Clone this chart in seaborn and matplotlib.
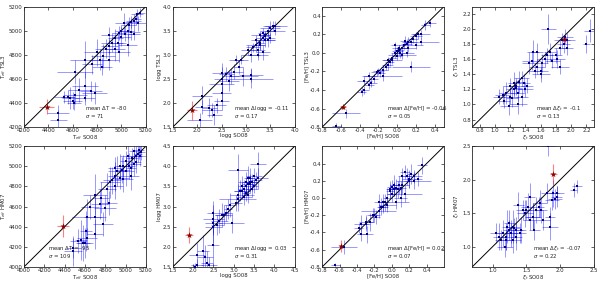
import numpy as np
import matplotlib
matplotlib.use('Agg')
import matplotlib.pyplot as plt
import seaborn as sns

# --- Teff (SO08 on x, shared by both rows) ---
teff_so08 = [4480, 4480, 4530, 4560, 4580, 4600, 4610, 4620, 4650, 4700, 4700, 4750, 4780, 4620, 4700,
             4760, 4800, 4820, 4840, 4850, 4870, 4900, 4900, 4920, 4950, 4950, 4970, 4980, 5000, 5000,
             5020, 5030, 5050, 5060, 5080, 5080, 5100, 5100, 5120, 5130, 5150, 5140, 5050, 4980, 4900]
teff_so08_err = [90, 70, 80, 60, 70, 80, 60, 100, 90, 110, 80, 90, 100, 150, 120, 80, 110, 90, 80, 100,
                 90, 80, 70, 90, 60, 80, 70, 60, 80, 50, 70, 60, 50, 60, 70, 50, 60, 50, 40, 50, 40, 60, 80, 90, 70]
teff_tsl3 = [4320, 4260, 4450, 4450, 4440, 4420, 4400, 4470, 4510, 4540, 4440, 4500, 4480, 4660, 4760,
             4720, 4820, 4760, 4700, 4790, 4850, 4760, 4870, 4900, 4940, 4850, 4900, 4980, 4950, 5000,
             5060, 4970, 5000, 5050, 4990, 5070, 5080, 4970, 5100, 5140, 5150, 5060, 4880, 4820, 4960]
teff_tsl3_err = [60, 80, 50, 60, 90, 70, 60, 80, 100, 120, 60, 80, 90, 100, 150, 80, 110, 90, 70, 100,
                 80, 90, 60, 80, 70, 100, 70, 60, 80, 50, 90, 60, 70, 60, 70, 50, 60, 50, 50, 40, 40, 60, 90, 80, 70]
teff_hm07 = [4160, 4190, 4260, 4270, 4240, 4240, 4360, 4290, 4600, 4500, 4330, 4630, 4430, 4500, 4720,
             4690, 4590, 4780, 4640, 4840, 4860, 4800, 4900, 4950, 5000, 4880, 4960, 5000, 4950, 5050,
             5100, 5000, 4980, 5080, 5020, 5150, 5100, 5040, 5120, 5160, 5140, 5100, 4900, 4870, 4980]
teff_hm07_err = [150, 100, 120, 200, 180, 150, 200, 100, 120, 200, 150, 150, 120, 180, 200, 150, 130, 150,
                 120, 150, 130, 120, 140, 150, 120, 100, 130, 110, 150, 100, 120, 130, 110, 100, 120, 90,
                 100, 110, 80, 90, 80, 100, 130, 120, 110]

# --- log g ---
logg_so08 = [2.05, 2.1, 2.1, 2.25, 2.3, 2.35, 2.4, 2.5, 2.5, 2.5, 2.5, 2.5, 2.6, 2.65, 2.7,
             2.75, 2.8, 2.85, 2.9, 2.95, 3.1, 3.1, 3.05, 3.1, 3.15, 3.2, 3.2, 3.25, 3.3, 3.3,
             3.35, 3.35, 3.4, 3.4, 3.45, 3.5, 3.5, 3.55, 3.6, 3.35, 3.3, 3.45, 3.25, 3.6, 3.4]
logg_so08_err = [0.25, 0.2, 0.15, 0.15, 0.2, 0.15, 0.2, 0.15, 0.2, 0.25, 0.15, 0.2, 0.15, 0.2, 0.15,
                 0.2, 0.15, 0.1, 0.15, 0.3, 0.45, 0.25, 0.15, 0.2, 0.15, 0.2, 0.1, 0.15, 0.2, 0.1,
                 0.15, 0.1, 0.2, 0.1, 0.15, 0.2, 0.1, 0.15, 0.2, 0.15, 0.1, 0.15, 0.2, 0.25, 0.1]
logg_tsl3 = [1.65, 2.15, 1.92, 1.90, 1.85, 1.75, 1.95, 2.05, 2.2, 2.4, 2.5, 2.62, 2.6, 2.45, 2.55,
             2.65, 2.9, 2.75, 2.9, 2.55, 2.5, 2.58, 3.1, 3.0, 3.15, 3.2, 3.3, 3.1, 3.4, 3.25,
             3.35, 3.45, 3.3, 3.4, 3.5, 3.55, 3.35, 3.6, 3.5, 3.05, 3.2, 3.3, 3.0, 3.6, 3.38]
logg_tsl3_err = [0.15, 0.2, 0.15, 0.2, 0.15, 0.2, 0.15, 0.2, 0.15, 0.2, 0.25, 0.2, 0.15, 0.2, 0.15,
                 0.15, 0.1, 0.15, 0.1, 0.2, 0.2, 0.15, 0.1, 0.15, 0.1, 0.15, 0.1, 0.15, 0.1, 0.15,
                 0.1, 0.1, 0.15, 0.1, 0.1, 0.15, 0.1, 0.1, 0.1, 0.15, 0.1, 0.15, 0.1, 0.1, 0.1]
logg_hm07 = [1.5, 1.8, 1.55, 1.9, 1.75, 1.6, 1.55, 2.05, 2.5, 2.7, 2.85, 2.6, 2.55, 2.65, 2.8,
             2.8, 2.85, 2.95, 3.05, 2.6, 3.2, 3.9, 3.1, 3.3, 3.4, 3.4, 3.5, 3.45, 3.6, 3.5,
             3.55, 3.7, 3.6, 3.7, 3.6, 3.75, 3.5, 3.65, 4.05, 3.3, 3.35, 3.45, 3.25, 3.7, 3.55]
logg_hm07_err = [0.1, 0.3, 0.15, 0.4, 0.3, 0.3, 0.2, 0.5, 0.4, 0.35, 0.3, 0.3, 0.25, 0.3, 0.3,
                 0.25, 0.2, 0.25, 0.3, 0.25, 0.3, 0.4, 0.2, 0.25, 0.25, 0.2, 0.25, 0.2, 0.25, 0.2,
                 0.2, 0.3, 0.2, 0.25, 0.2, 0.2, 0.15, 0.2, 0.3, 0.2, 0.2, 0.2, 0.2, 0.25, 0.2]

# --- [Fe/H] ---
feh_so08 = [-0.65, -0.55, -0.38, -0.35, -0.35, -0.3, -0.28, -0.3, -0.25, -0.2, -0.18, -0.15, -0.15, -0.12, -0.1,
            -0.08, -0.05, -0.05, -0.02, 0.0, 0.0, 0.02, 0.03, 0.05, 0.05, 0.07, 0.1, 0.1, 0.12, 0.15,
            0.15, 0.17, 0.2, 0.2, 0.22, 0.25, 0.3, 0.35, 0.08, -0.02, 0.12, 0.25, -0.1, 0.02, -0.22]
feh_so08_err = [0.05, 0.15, 0.05, 0.05, 0.08, 0.05, 0.06, 0.08, 0.05, 0.06, 0.05, 0.05, 0.2, 0.05, 0.06,
                0.05, 0.05, 0.1, 0.05, 0.06, 0.05, 0.08, 0.05, 0.06, 0.15, 0.05, 0.06, 0.08, 0.05, 0.06,
                0.2, 0.05, 0.06, 0.08, 0.05, 0.2, 0.05, 0.06, 0.05, 0.05, 0.08, 0.1, 0.06, 0.05, 0.06]
feh_tsl3 = [-0.79, -0.65, -0.42, -0.40, -0.30, -0.35, -0.32, -0.25, -0.28, -0.2, -0.22, -0.18, -0.25, -0.15, -0.13,
            -0.1, -0.05, -0.08, 0.0, 0.02, -0.03, 0.05, 0.0, 0.05, -0.02, 0.08, 0.1, 0.0, 0.12, 0.12,
            -0.15, 0.15, 0.18, 0.08, 0.2, 0.12, 0.3, 0.32, 0.13, 0.08, 0.05, 0.2, -0.08, 0.03, -0.21]
feh_tsl3_err = [0.03, 0.05, 0.05, 0.04, 0.05, 0.04, 0.05, 0.04, 0.05, 0.04, 0.04, 0.05, 0.05, 0.04, 0.05,
                0.04, 0.05, 0.04, 0.05, 0.04, 0.05, 0.04, 0.05, 0.04, 0.05, 0.04, 0.05, 0.04, 0.05, 0.04,
                0.06, 0.04, 0.05, 0.04, 0.05, 0.04, 0.05, 0.04, 0.05, 0.04, 0.04, 0.05, 0.04, 0.05, 0.04]
feh_hm07 = [-0.78, -0.57, -0.35, -0.42, -0.3, -0.3, -0.42, -0.28, -0.28, -0.2, -0.22, -0.05, -0.15, -0.1, -0.1,
            -0.05, 0.0, -0.08, 0.1, 0.13, 0.05, 0.1, 0.15, 0.12, -0.05, 0.1, 0.12, 0.0, 0.25, 0.3,
            0.05, 0.25, 0.2, 0.22, 0.28, 0.2, 0.22, 0.38, 0.15, 0.08, 0.15, 0.25, -0.05, 0.1, -0.2]
feh_hm07_err = [0.03, 0.08, 0.06, 0.08, 0.1, 0.08, 0.1, 0.08, 0.1, 0.08, 0.08, 0.1, 0.08, 0.1, 0.08,
                0.1, 0.12, 0.08, 0.1, 0.08, 0.1, 0.08, 0.12, 0.1, 0.08, 0.1, 0.08, 0.1, 0.1, 0.08,
                0.1, 0.1, 0.08, 0.1, 0.12, 0.1, 0.08, 0.1, 0.1, 0.08, 0.1, 0.08, 0.1, 0.08, 0.08]

# --- microturbulence xi_t ---
xi_so08 = [1.05, 1.1, 1.12, 1.15, 1.18, 1.2, 1.22, 1.25, 1.25, 1.28, 1.3, 1.3, 1.32, 1.35, 1.38,
           1.4, 1.42, 1.45, 1.48, 1.5, 1.52, 1.55, 1.55, 1.6, 1.62, 1.65, 1.68, 1.7, 1.72, 1.75,
           1.8, 1.82, 1.85, 1.85, 1.88, 1.9, 1.92, 1.95, 1.95, 2.2, 2.25, 1.6, 1.35, 1.2, 1.28]
xi_so08_err = [0.08, 0.1, 0.08, 0.1, 0.12, 0.1, 0.08, 0.1, 0.08, 0.1, 0.12, 0.1, 0.08, 0.1, 0.08,
               0.1, 0.08, 0.1, 0.12, 0.08, 0.1, 0.08, 0.1, 0.12, 0.08, 0.1, 0.08, 0.1, 0.08, 0.1,
               0.08, 0.1, 0.12, 0.08, 0.1, 0.08, 0.1, 0.08, 0.1, 0.05, 0.08, 0.1, 0.08, 0.1, 0.08]
xi_tsl3 = [1.1, 1.12, 1.05, 1.15, 0.98, 1.1, 1.08, 1.2, 1.28, 1.25, 1.0, 1.15, 1.3, 1.35, 1.28,
           1.2, 1.25, 1.55, 1.58, 1.7, 1.45, 1.7, 1.5, 1.4, 1.55, 1.6, 1.65, 2.0, 1.7, 1.58,
           1.65, 1.6, 1.5, 1.75, 1.85, 1.8, 1.9, 1.75, 1.85, 1.8, 1.98, 1.45, 1.1, 1.25, 1.22]
xi_tsl3_err = [0.1, 0.12, 0.1, 0.15, 0.12, 0.1, 0.12, 0.1, 0.15, 0.1, 0.12, 0.1, 0.15, 0.1, 0.12,
               0.1, 0.1, 0.15, 0.12, 0.15, 0.1, 0.12, 0.1, 0.1, 0.12, 0.1, 0.1, 0.2, 0.12, 0.1,
               0.1, 0.12, 0.1, 0.1, 0.1, 0.12, 0.1, 0.1, 0.1, 0.12, 0.15, 0.1, 0.12, 0.1, 0.1]
xi_hm07 = [1.2, 1.15, 1.1, 1.2, 1.0, 1.15, 1.3, 1.25, 1.35, 1.2, 1.1, 1.3, 1.28, 1.25, 1.62,
           1.2, 1.25, 1.55, 1.5, 1.55, 1.6, 1.75, 1.4, 1.45, 1.25, 1.55, 1.6, 1.65, 1.55, 1.4,
           1.8, 2.5, 1.3, 1.45, 1.7, 1.8, 1.72, 1.75, 1.8, 1.85, 1.9, 1.45, 1.15, 1.1, 1.2]
xi_hm07_err = [0.15, 0.2, 0.15, 0.2, 0.15, 0.2, 0.25, 0.15, 0.2, 0.15, 0.2, 0.25, 0.15, 0.2, 0.2,
               0.15, 0.2, 0.15, 0.2, 0.15, 0.2, 0.2, 0.15, 0.2, 0.15, 0.2, 0.15, 0.2, 0.2, 0.15,
               0.15, 0.15, 0.2, 0.15, 0.15, 0.2, 0.15, 0.15, 0.1, 0.1, 0.1, 0.2, 0.2, 0.15, 0.2]

# the highlighted star (red): x, xerr, y_tsl3, yerr_tsl3, y_hm07, yerr_hm07
red_teff = [4385, 60, 4370, 60, 4410, 110]
red_logg = [1.9, 0.1, 1.85, 0.2, 2.3, 0.2]
red_feh = [-0.58, 0.03, -0.58, 0.03, -0.56, 0.07]
red_xi = [1.9, 0.05, 1.87, 0.05, 2.08, 0.15]

# summary stats printed in each panel
stats_tsl3 = [('-80', '71'), ('-0.11', '0.17'), ('-0.06', '0.05'), ('-0.1', '0.13')]
stats_hm07 = [('-95', '109'), ('0.03', '0.31'), ('0.02', '0.07'), ('-0.07', '0.22')]

sns.set_style('ticks')
plt.rcParams['font.family'] = ['DejaVu Sans']
plt.rcParams['xtick.direction'] = 'in'
plt.rcParams['ytick.direction'] = 'in'
plt.rcParams['axes.linewidth'] = 0.6
plt.rcParams['axes.unicode_minus'] = False
fs = 3.9

fig = plt.figure(figsize=(6.0, 2.83), dpi=100)
lefts = [0.040, 0.288, 0.537, 0.787]
w, h = 0.203, 0.426
bottoms = [0.551, 0.057]


def panel(ax, x, xe, y, ye, red, top, lim, ticks, name, dname, survey, stat, tx):
    ax.errorbar(x, y, xerr=xe, yerr=ye, fmt='none', ecolor='blue', alpha=0.4,
                elinewidth=0.7, capsize=0)
    sns.scatterplot(x=x, y=y, ax=ax, marker='s', s=3.5, color='navy', linewidth=0, zorder=3)
    ry, rye = (red[2], red[3]) if top else (red[4], red[5])
    ax.errorbar([red[0]], [ry], xerr=[red[1]], yerr=[rye], fmt='none', ecolor='red',
                alpha=0.5, elinewidth=0.8, capsize=0)
    sns.scatterplot(x=[red[0]], y=[ry], ax=ax, marker='*', s=22, color='darkred',
                    linewidth=0, zorder=4)
    ax.plot(lim, lim, color='black', lw=0.7, zorder=2)
    ax.set_xlim(lim)
    ax.set_ylim(lim)
    ax.set_xticks(ticks)
    ax.set_yticks(ticks)
    ax.tick_params(labelsize=fs, length=2.5, width=0.5, pad=1, top=True, right=True)
    ax.set_xlabel(name + ' SO08', fontsize=fs, labelpad=0)
    ax.set_ylabel(name + ' ' + survey, fontsize=fs, labelpad=0.5)
    ax.text(tx, 0.14, 'mean ' + dname + ' = ' + stat[0], transform=ax.transAxes, fontsize=fs)
    ax.text(tx, 0.075, r'$\sigma$ = ' + stat[1], transform=ax.transAxes, fontsize=fs)


cols = [
    (teff_so08, teff_so08_err, teff_tsl3, teff_tsl3_err, teff_hm07, teff_hm07_err, red_teff,
     (4200, 5200), np.arange(4200, 5201, 200), (4000, 5200), np.arange(4000, 5201, 200),
     r'T$_{eff}$', r'$\Delta$T', 0.5, 0.2),
    (logg_so08, logg_so08_err, logg_tsl3, logg_tsl3_err, logg_hm07, logg_hm07_err, red_logg,
     (1.5, 4.0), np.arange(1.5, 4.01, 0.5), (1.5, 4.5), np.arange(1.5, 4.51, 0.5),
     'logg', r'$\Delta$logg', 0.5, 0.5),
    (feh_so08, feh_so08_err, feh_tsl3, feh_tsl3_err, feh_hm07, feh_hm07_err, red_feh,
     (-0.8, 0.5), np.arange(-0.8, 0.41, 0.2), (-0.8, 0.6), np.arange(-0.8, 0.41, 0.2),
     '[Fe/H]', r'$\Delta$[Fe/H]', 0.53, 0.53),
    (xi_so08, xi_so08_err, xi_tsl3, xi_tsl3_err, xi_hm07, xi_hm07_err, red_xi,
     (0.7, 2.3), np.arange(0.8, 2.21, 0.2), (0.7, 2.5), np.arange(1.0, 2.51, 0.5),
     r'$\xi_t$', r'$\Delta\xi_t$', 0.52, 0.5),
]

for i, c in enumerate(cols):
    (x, xe, yt, yte, yb, ybe, red, lim_t, tk_t, lim_b, tk_b, name, dname, tx_t, tx_b) = c
    ax = fig.add_axes([lefts[i], bottoms[0], w, h])
    panel(ax, x, xe, yt, yte, red, True, lim_t, tk_t, name, dname, 'TSL3', stats_tsl3[i], tx_t)
    ax = fig.add_axes([lefts[i], bottoms[1], w, h])
    panel(ax, x, xe, yb, ybe, red, False, lim_b, tk_b, name, dname, 'HM07', stats_hm07[i], tx_b)

fig.savefig('out.png', dpi=100)
